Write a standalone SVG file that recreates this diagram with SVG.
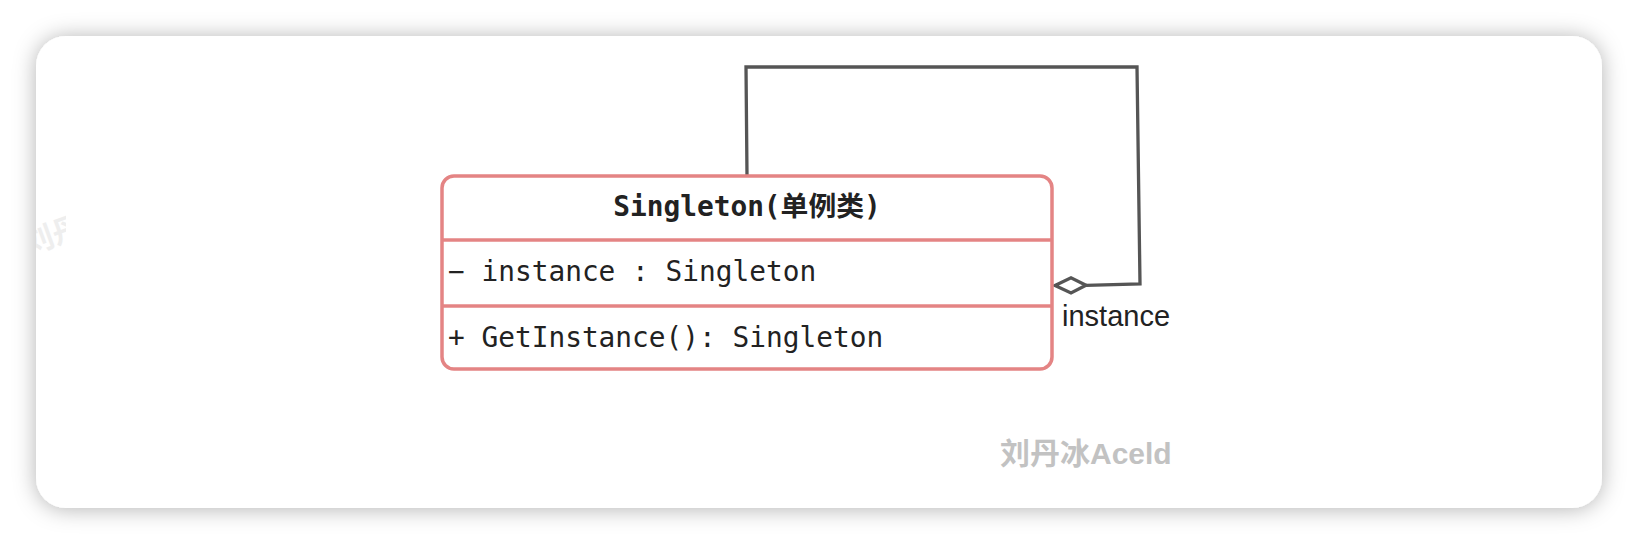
<svg xmlns="http://www.w3.org/2000/svg" width="1638" height="544" viewBox="0 0 1638 544">
  <style>
    .mono { font-family: "DejaVu Sans Mono", "Noto Sans CJK SC", monospace; font-size: 27.8px; fill: #222; }
    .title { font-weight: bold; }
    .label { font-family: "Liberation Sans", Arial, sans-serif; font-size: 29px; fill: #222; }
    .wm { font-family: "Liberation Sans", "Noto Sans CJK SC", sans-serif; font-weight: bold; font-size: 30px; fill: #c2c2c2; }
    .box { fill: #fff; stroke: #e48484; stroke-width: 3.5; }
    .div { stroke: #e48484; stroke-width: 3.5; }
    .conn { fill: none; stroke: #555; stroke-width: 3.3; stroke-linejoin: miter; }
  </style>
  <defs>
    <filter id="shadow" x="-10%" y="-20%" width="120%" height="140%">
      <feGaussianBlur in="SourceAlpha" stdDeviation="11"/>
      <feOffset dx="0" dy="1" result="b"/>
      <feFlood flood-color="#000" flood-opacity="0.3"/>
      <feComposite in2="b" operator="in"/>
      <feMerge>
        <feMergeNode/>
        <feMergeNode in="SourceGraphic"/>
      </feMerge>
    </filter>
    <clipPath id="wmclip">
      <rect x="36" y="200" width="30" height="60"/>
    </clipPath>
  </defs>
  <rect width="1638" height="544" fill="#fff"/>
  <rect id="card" x="36" y="36" width="1566" height="472" rx="30" fill="#fff" filter="url(#shadow)"/>
  <g clip-path="url(#wmclip)">
    <text class="wm" x="22" y="250" transform="rotate(-20 40 235)" style="fill:#eeeeee">刘丹冰Aceld</text>
  </g>
  <g id="connectors">
    <path class="conn" d="M 747 176 L 746 67 L 1137 67 L 1140 284 L 1086 285.3"/>
    <polygon class="conn" points="1086,285.3 1071,277.8 1055,285.5 1071,293" style="fill:#fff"/>
    <text class="label" x="1062" y="326">instance</text>
  </g>
  <g id="singleton">
    <rect class="box" x="442" y="176" width="610" height="193" rx="12"/>
    <line class="div" x1="442" y1="240" x2="1052" y2="240"/>
    <line class="div" x1="442" y1="306" x2="1052" y2="306"/>
    <text class="mono title" x="747" y="216" text-anchor="middle">Singleton(单例类)</text>
    <text class="mono" x="448" y="281">− instance : Singleton</text>
    <text class="mono" x="448" y="347">+ GetInstance(): Singleton</text>
  </g>
  <text class="wm" x="1000" y="464">刘丹冰Aceld</text>
</svg>
